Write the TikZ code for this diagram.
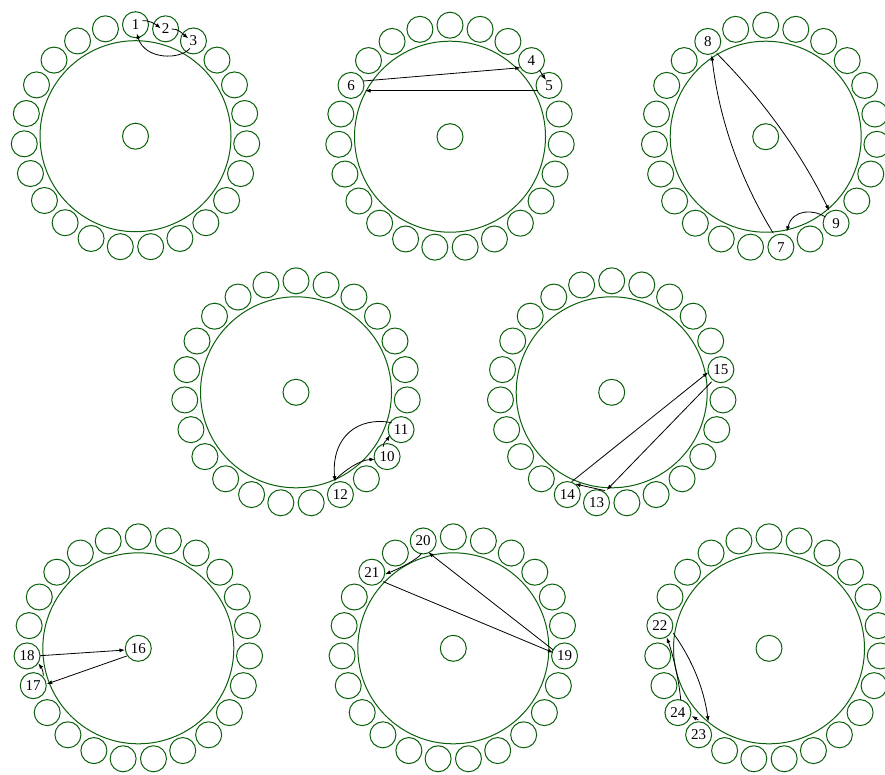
\documentclass[tikz,border=0pt]{standalone}
\usepackage{fontspec}
\setmainfont{Liberation Serif}
\usetikzlibrary{calc,arrows.meta}
\definecolor{wheelgreen}{RGB}{10,95,10}
\tikzset{
  ringc/.style={circle, draw=wheelgreen, line width=1pt, minimum size=26pt, inner sep=0pt},
  bigc/.style={circle, draw=wheelgreen, line width=1pt, minimum size=191pt, inner sep=0pt},
  lbl/.style={circle, minimum size=26pt, inner sep=0pt, font=\fontsize{15}{15}\selectfont},
  edge/.style={draw=black, line width=0.8pt, -{Latex[length=5.5pt,width=4pt]}}
}
\newcommand\mywheel[3]{%
  \node[bigc] (#1b) at (#2,#3) {};
  \node[ringc] (#1c) at (#2,#3) {};
  \foreach \k in {0,...,22}{%
    \pgfmathsetmacro\ang{90-\k*360/23}%
    \node[ringc] (#1r\k) at ({#2+111.5*cos(\ang)},{#3-111.5*sin(\ang)}) {};
  }%
}
\begin{document}
\begin{tikzpicture}[x=1pt,y=-1pt]
\fill[white] (0,0) rectangle (885,774);
\useasboundingbox (0,0) rectangle (885,774);
\mywheel{A}{135.5}{136.2}
\mywheel{B}{450}{136.7}
\mywheel{C}{765.7}{136.7}
\mywheel{D}{296}{392.3}
\mywheel{E}{611.7}{392.3}
\mywheel{F}{138.3}{648.3}
\mywheel{G}{453.3}{648.3}
\mywheel{H}{769}{648.3}
% labels
\node[lbl] (n1) at (Ar0) {1};
\node[lbl] (n2) at (Ar1) {2};
\node[lbl] (n3) at (Ar2) {3};
\node[lbl] (n4) at (Br3) {4};
\node[lbl] (n5) at (Br4) {5};
\node[lbl] (n6) at (Br19) {6};
\node[lbl] (n7) at (Cr11) {7};
\node[lbl] (n8) at (Cr21) {8};
\node[lbl] (n9) at (Cr9) {9};
\node[lbl] (n10) at (Dr8) {10};
\node[lbl] (n11) at (Dr7) {11};
\node[lbl] (n12) at (Dr10) {12};
\node[lbl] (n13) at (Er12) {13};
\node[lbl] (n14) at (Er13) {14};
\node[lbl] (n15) at (Er5) {15};
\node[lbl] (n16) at (Fc) {16};
\node[lbl] (n17) at (Fr16) {17};
\node[lbl] (n18) at (Fr17) {18};
\node[lbl] (n19) at (Gr6) {19};
\node[lbl] (n20) at (Gr22) {20};
\node[lbl] (n21) at (Gr20) {21};
\node[lbl] (n22) at (Hr18) {22};
\node[lbl] (n23) at (Hr14) {23};
\node[lbl] (n24) at (Hr15) {24};
% wheel 1
\draw[edge] ($(n1)+(6.8,-4)$) .. controls +(6,-1) and +(-5,-4) .. ($(n2)+(-4.9,-0.5)$);
\draw[edge] ($(n2)+(6.1,0.2)$) .. controls +(6,-1) and +(-5,-4) .. ($(n3)+(-5.1,-2.6)$);
\draw[edge] ($(n3)+(-3.4,7.4)$) .. controls +(-10,11.7) and +(8.3,26.7) .. ($(n1)+(1.2,8.6)$);
% wheel 2
\draw[edge] ($(n6)+(12.3,-4.4)$) -- ($(n4)+(-10.8,7.1)$);
\draw[edge] ($(n4)+(7.8,9.4)$) -- ($(n5)+(-3,-5.4)$);
\draw[edge] ($(n5)+(-10.7,5.3)$) -- ($(n6)+(14,5.3)$);
% wheel 3
\draw[edge] ($(n7)+(-7.6,-13.9)$) .. controls +(-33.6,-54.9) and +(7.4,63.9) .. ($(n8)+(3.9,13.6)$);
\draw[edge] ($(n8)+(8.9,11.9)$) .. controls +(46.2,46.3) and +(-28.8,-58.7) .. ($(n9)+(-6.8,-12.5)$);
\draw[edge] ($(n9)+(-11.1,-6.5)$) .. controls +(-10,-6.7) and +(6.3,-23.7) .. ($(n7)+(5.8,-15.5)$);
% wheel 4
\draw[edge] ($(n10)+(-3.8,-9.9)$) .. controls +(0,-5) and +(-3,5) .. ($(n11)+(-11.1,5.4)$);
\draw[edge] ($(n12)+(-5.4,-14.6)$) .. controls +(10,-10) and +(-15,0.7) .. ($(n10)+(-12.1,2.7)$);
\draw[edge] ($(n11)+(-9.4,-6.9)$) .. controls +(-33.7,-6.7) and +(-4,-44.7) .. ($(n12)+(-5.4,-12.9)$);
% wheel 5
\draw[edge] ($(n14)+(4.4,-12.9)$) -- ($(n15)+(-12.6,2.7)$);
\draw[edge] ($(n15)+(-9.2,12.1)$) -- ($(n13)+(10.2,-12.8)$);
\draw[edge] ($(n13)+(8.5,-12.1)$) -- ($(n14)+(7.7,-10.6)$);
% wheel 6
\draw[edge] ($(n18)+(12.9,-0.2)$) -- ($(n16)+(-13.3,1.7)$);
\draw[edge] ($(n16)+(-11.6,7.7)$) -- ($(n17)+(13.5,-1.6)$);
\draw[edge] ($(n17)+(10.1,-9.9)$) .. controls +(0,-5) and +(3,4) .. ($(n18)+(11.2,7.4)$);
% wheel 7
\draw[edge] ($(n19)+(-11.2,-5.9)$) -- ($(n20)+(5.1,11.4)$);
\draw[edge] ($(n20)+(-1.5,12.4)$) .. controls +(-4.7,6.7) and +(13,-5.3) .. ($(n21)+(13.2,2.1)$);
\draw[edge] ($(n21)+(11.5,9.5)$) -- ($(n19)+(-11.2,-3.2)$);
% wheel 8
\draw[edge] ($(n22)+(13.5,7.7)$) .. controls +(19.1,26.6) and +(-4.3,-32.4) .. ($(n23)+(9.7,-13.1)$);
\draw[edge] ($(n23)+(-0.3,-14.8)$) -- ($(n24)+(13.8,3.4)$);
\draw[edge] ($(n24)+(2.8,-12.6)$) .. controls +(-1.7,-20) and +(6.3,17.7) .. ($(n22)+(6.9,11.7)$);
\end{tikzpicture}
\end{document}
